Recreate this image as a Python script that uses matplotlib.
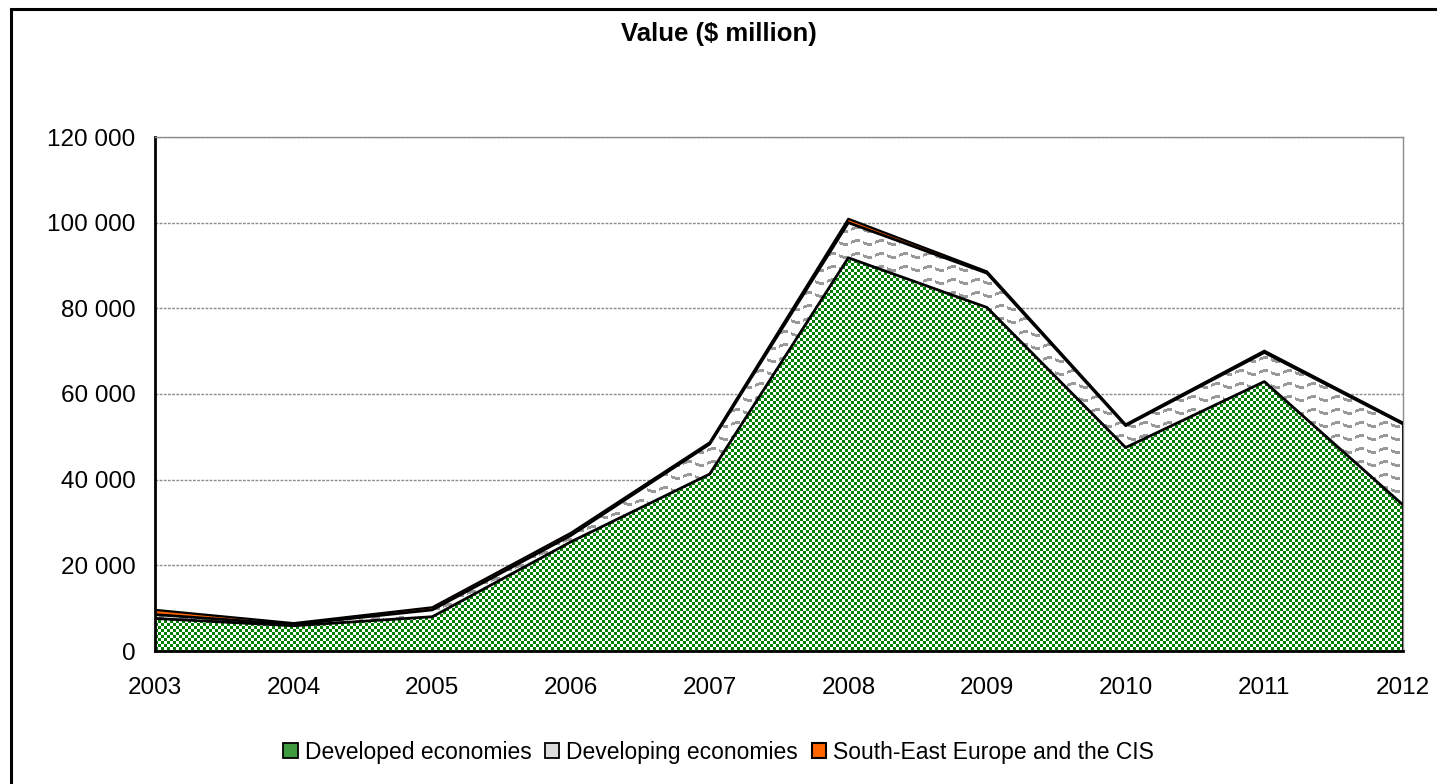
import numpy as np
import matplotlib
matplotlib.use("Agg")
import matplotlib.pyplot as plt
from matplotlib.patches import Patch, Rectangle

plt.rcParams['font.family'] = ['Liberation Sans', 'DejaVu Sans']

years = ['2003', '2004', '2005', '2006', '2007', '2008', '2009', '2010', '2011', '2012']
developed = [7600, 5900, 8000, 25500, 41300, 91800, 80200, 47500, 62900, 34100]
developing = [900, 300, 1600, 1500, 7000, 8200, 8000, 5100, 6800, 18900]
see_cis = [1100, 300, 600, 600, 400, 900, 400, 300, 400, 300]

title = 'Value ($ million)'
labels = ['Developed economies', 'Developing economies', 'South-East Europe and the CIS']

W, H = 1437, 784
fig = plt.figure(figsize=(W / 100, H / 100), dpi=100)
# outer chart frame
fig.patches.append(Rectangle((11 / W, -0.01), 1.2, 1 - 9 / H + 0.01, transform=fig.transFigure,
                             fill=False, edgecolor='black', linewidth=2.2))

left, right, top, bottom = 155, 1403, 137, 651
ax = fig.add_axes([left / W, 1 - bottom / H, (right - left) / W, (bottom - top) / H])

x = np.arange(len(years))
dev = np.array(developed, dtype=float)
dvg = dev + np.array(developing, dtype=float)
tot = dvg + np.array(see_cis, dtype=float)

ax.set_xlim(0, len(years) - 1)
ax.set_ylim(0, 120000)

# textures (pixel-level patterns like the Excel fills)
pw, ph = right - left, bottom - top
rr, cc = np.mgrid[0:ph, 0:pw]
checker = ((rr // 3 + cc // 3) % 2 == 0)
green_tex = np.ones((ph, pw, 4))
green_tex[checker] = [0.0, 0.5, 0.0, 1.0]

offs = np.round(2 * np.sin(2 * np.pi * cc / 24)).astype(int)
wave = ((rr + offs) % 13 < 3) & (cc % 12 < 9)
gray_tex = np.ones((ph, pw, 4))
gray_tex[wave] = [0.6, 0.6, 0.6, 1.0]

ext = (0, len(years) - 1, 0, 120000)

p1 = ax.fill_between(x, 0, dev, facecolor='none', edgecolor='none')
im1 = ax.imshow(green_tex, extent=ext, aspect='auto', interpolation='nearest', zorder=1, origin='upper')
im1.set_clip_path(p1.get_paths()[0], transform=ax.transData)

p2 = ax.fill_between(x, dev, dvg, facecolor='none', edgecolor='none')
im2 = ax.imshow(gray_tex, extent=ext, aspect='auto', interpolation='nearest', zorder=1, origin='upper')
im2.set_clip_path(p2.get_paths()[0], transform=ax.transData)

ax.fill_between(x, dvg, tot, facecolor='#FF6600', edgecolor='none', zorder=2)

ax.plot(x, dev, color='black', lw=2, zorder=3)
ax.plot(x, dvg, color='black', lw=2, zorder=3)
ax.plot(x, tot, color='black', lw=1.6, zorder=3)
ax.plot([x[-1], x[-1]], [0, tot[-1]], color='black', lw=2, zorder=3)

ax.set_yticks(np.arange(0, 120001, 20000))
ax.set_yticklabels([f'{v:,}'.replace(',', ' ') for v in range(0, 120001, 20000)], fontsize=17.5)
ax.set_xticks(x)
ax.set_xticklabels(years, fontsize=17.5)
ax.tick_params(axis='both', length=0)
ax.tick_params(axis='y', pad=14)
ax.tick_params(axis='x', pad=19)
ax.yaxis.grid(True, color='#8c8c8c', lw=1, linestyle=(0, (2, 1)))
ax.set_axisbelow(True)
for s in ['top', 'right']:
    ax.spines[s].set_color('#8c8c8c')
    ax.spines[s].set_linewidth(1)
for s in ['left', 'bottom']:
    ax.spines[s].set_color('black')
    ax.spines[s].set_linewidth(2)

fig.text(0.5, 1 - 34 / H, title, ha='center', va='center', fontsize=18.5, fontweight='bold')

handles = [Patch(facecolor='#3f9a3f', edgecolor='black', lw=1.3),
           Patch(facecolor='#dcdcdc', edgecolor='black', lw=1.3),
           Patch(facecolor='#FF6600', edgecolor='black', lw=1.5)]
fig.legend(handles, labels, loc='center', bbox_to_anchor=(0.5, 1 - 752 / H), ncol=3, frameon=False,
           fontsize=16.5, handlelength=0.62, handleheight=0.62, handletextpad=0.3, columnspacing=0.6)

fig.savefig('out.png', dpi=100)
